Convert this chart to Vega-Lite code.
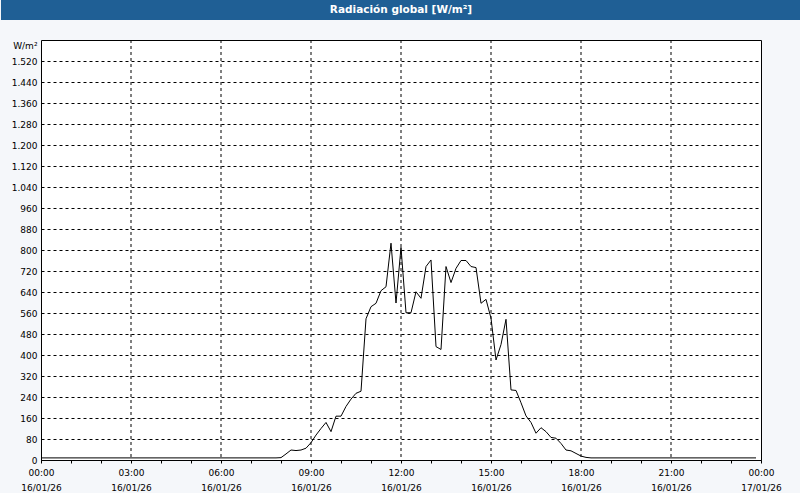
{
  "$schema": "https://vega.github.io/schema/vega-lite/v6.json",
  "padding": 0,
  "background": "#f5f7fa",
  "config": {
    "font": "DejaVu Sans",
    "view": {"stroke": null}
  },
  "datasets": {
    "rad": [
      {"t": "2026-01-16T00:00", "v": 8}, {"t": "2026-01-16T00:10", "v": 8}, {"t": "2026-01-16T00:20", "v": 8}, {"t": "2026-01-16T00:30", "v": 8}, {"t": "2026-01-16T00:40", "v": 8}, {"t": "2026-01-16T00:50", "v": 8},
      {"t": "2026-01-16T01:00", "v": 8}, {"t": "2026-01-16T01:10", "v": 8}, {"t": "2026-01-16T01:20", "v": 8}, {"t": "2026-01-16T01:30", "v": 8}, {"t": "2026-01-16T01:40", "v": 8}, {"t": "2026-01-16T01:50", "v": 8},
      {"t": "2026-01-16T02:00", "v": 8}, {"t": "2026-01-16T02:10", "v": 8}, {"t": "2026-01-16T02:20", "v": 8}, {"t": "2026-01-16T02:30", "v": 8}, {"t": "2026-01-16T02:40", "v": 8}, {"t": "2026-01-16T02:50", "v": 8},
      {"t": "2026-01-16T03:00", "v": 8}, {"t": "2026-01-16T03:10", "v": 8}, {"t": "2026-01-16T03:20", "v": 8}, {"t": "2026-01-16T03:30", "v": 8}, {"t": "2026-01-16T03:40", "v": 8}, {"t": "2026-01-16T03:50", "v": 8},
      {"t": "2026-01-16T04:00", "v": 8}, {"t": "2026-01-16T04:10", "v": 8}, {"t": "2026-01-16T04:20", "v": 8}, {"t": "2026-01-16T04:30", "v": 8}, {"t": "2026-01-16T04:40", "v": 8}, {"t": "2026-01-16T04:50", "v": 8},
      {"t": "2026-01-16T05:00", "v": 8}, {"t": "2026-01-16T05:10", "v": 8}, {"t": "2026-01-16T05:20", "v": 8}, {"t": "2026-01-16T05:30", "v": 8}, {"t": "2026-01-16T05:40", "v": 8}, {"t": "2026-01-16T05:50", "v": 8},
      {"t": "2026-01-16T06:00", "v": 8}, {"t": "2026-01-16T06:10", "v": 8}, {"t": "2026-01-16T06:20", "v": 8}, {"t": "2026-01-16T06:30", "v": 8}, {"t": "2026-01-16T06:40", "v": 8}, {"t": "2026-01-16T06:50", "v": 8},
      {"t": "2026-01-16T07:00", "v": 8}, {"t": "2026-01-16T07:10", "v": 8}, {"t": "2026-01-16T07:20", "v": 8}, {"t": "2026-01-16T07:30", "v": 8}, {"t": "2026-01-16T07:40", "v": 8}, {"t": "2026-01-16T07:50", "v": 8},
      {"t": "2026-01-16T08:00", "v": 9}, {"t": "2026-01-16T08:10", "v": 23}, {"t": "2026-01-16T08:20", "v": 38}, {"t": "2026-01-16T08:30", "v": 36}, {"t": "2026-01-16T08:40", "v": 38}, {"t": "2026-01-16T08:50", "v": 45},
      {"t": "2026-01-16T09:00", "v": 66}, {"t": "2026-01-16T09:10", "v": 95}, {"t": "2026-01-16T09:20", "v": 120}, {"t": "2026-01-16T09:30", "v": 143}, {"t": "2026-01-16T09:40", "v": 108}, {"t": "2026-01-16T09:50", "v": 167},
      {"t": "2026-01-16T10:00", "v": 167}, {"t": "2026-01-16T10:10", "v": 204}, {"t": "2026-01-16T10:20", "v": 232}, {"t": "2026-01-16T10:30", "v": 254}, {"t": "2026-01-16T10:40", "v": 262}, {"t": "2026-01-16T10:50", "v": 538},
      {"t": "2026-01-16T11:00", "v": 584}, {"t": "2026-01-16T11:10", "v": 597}, {"t": "2026-01-16T11:20", "v": 645}, {"t": "2026-01-16T11:30", "v": 660}, {"t": "2026-01-16T11:40", "v": 826}, {"t": "2026-01-16T11:50", "v": 598},
      {"t": "2026-01-16T12:00", "v": 810}, {"t": "2026-01-16T12:10", "v": 561}, {"t": "2026-01-16T12:20", "v": 561}, {"t": "2026-01-16T12:30", "v": 641}, {"t": "2026-01-16T12:40", "v": 616}, {"t": "2026-01-16T12:50", "v": 737},
      {"t": "2026-01-16T13:00", "v": 762}, {"t": "2026-01-16T13:10", "v": 432}, {"t": "2026-01-16T13:20", "v": 421}, {"t": "2026-01-16T13:30", "v": 737}, {"t": "2026-01-16T13:40", "v": 676}, {"t": "2026-01-16T13:50", "v": 730},
      {"t": "2026-01-16T14:00", "v": 760}, {"t": "2026-01-16T14:10", "v": 760}, {"t": "2026-01-16T14:20", "v": 737}, {"t": "2026-01-16T14:30", "v": 733}, {"t": "2026-01-16T14:40", "v": 597}, {"t": "2026-01-16T14:50", "v": 612},
      {"t": "2026-01-16T15:00", "v": 540}, {"t": "2026-01-16T15:10", "v": 381}, {"t": "2026-01-16T15:20", "v": 440}, {"t": "2026-01-16T15:30", "v": 536}, {"t": "2026-01-16T15:40", "v": 267}, {"t": "2026-01-16T15:50", "v": 265},
      {"t": "2026-01-16T16:00", "v": 218}, {"t": "2026-01-16T16:10", "v": 168}, {"t": "2026-01-16T16:20", "v": 143}, {"t": "2026-01-16T16:30", "v": 102}, {"t": "2026-01-16T16:40", "v": 123}, {"t": "2026-01-16T16:50", "v": 108},
      {"t": "2026-01-16T17:00", "v": 86}, {"t": "2026-01-16T17:10", "v": 83}, {"t": "2026-01-16T17:20", "v": 63}, {"t": "2026-01-16T17:30", "v": 38}, {"t": "2026-01-16T17:40", "v": 35}, {"t": "2026-01-16T17:50", "v": 25},
      {"t": "2026-01-16T18:00", "v": 15}, {"t": "2026-01-16T18:10", "v": 10}, {"t": "2026-01-16T18:20", "v": 8}, {"t": "2026-01-16T18:30", "v": 8}, {"t": "2026-01-16T18:40", "v": 8}, {"t": "2026-01-16T18:50", "v": 8},
      {"t": "2026-01-16T19:00", "v": 8}, {"t": "2026-01-16T19:10", "v": 8}, {"t": "2026-01-16T19:20", "v": 8}, {"t": "2026-01-16T19:30", "v": 8}, {"t": "2026-01-16T19:40", "v": 8}, {"t": "2026-01-16T19:50", "v": 8},
      {"t": "2026-01-16T20:00", "v": 8}, {"t": "2026-01-16T20:10", "v": 8}, {"t": "2026-01-16T20:20", "v": 8}, {"t": "2026-01-16T20:30", "v": 8}, {"t": "2026-01-16T20:40", "v": 8}, {"t": "2026-01-16T20:50", "v": 8},
      {"t": "2026-01-16T21:00", "v": 8}, {"t": "2026-01-16T21:10", "v": 8}, {"t": "2026-01-16T21:20", "v": 8}, {"t": "2026-01-16T21:30", "v": 8}, {"t": "2026-01-16T21:40", "v": 8}, {"t": "2026-01-16T21:50", "v": 8},
      {"t": "2026-01-16T22:00", "v": 8}, {"t": "2026-01-16T22:10", "v": 8}, {"t": "2026-01-16T22:20", "v": 8}, {"t": "2026-01-16T22:30", "v": 8}, {"t": "2026-01-16T22:40", "v": 8}, {"t": "2026-01-16T22:50", "v": 8},
      {"t": "2026-01-16T23:00", "v": 8}, {"t": "2026-01-16T23:10", "v": 8}, {"t": "2026-01-16T23:20", "v": 8}, {"t": "2026-01-16T23:30", "v": 8}, {"t": "2026-01-16T23:40", "v": 8}, {"t": "2026-01-16T23:50", "v": 8}
    ],
    "grid": [
      {"t": "2026-01-16T03:00"}, {"t": "2026-01-16T06:00"}, {"t": "2026-01-16T09:00"}, {"t": "2026-01-16T12:00"},
      {"t": "2026-01-16T15:00"}, {"t": "2026-01-16T18:00"}, {"t": "2026-01-16T21:00"}
    ],
    "head": [{"title": "Radiación global [W/m²]"}]
  },
  "spacing": 20,
  "bounds": "flush",
  "center": true,
  "vconcat": [
    {
      "width": 800,
      "height": 20,
      "view": {"fill": "#1f5f95", "stroke": null},
      "data": {"name": "head"},
      "mark": {"type": "text", "color": "white", "fontWeight": "bold", "fontSize": 10.5, "font": "DejaVu Sans", "baseline": "middle", "align": "center"},
      "encoding": {"text": {"field": "title"}}
    },
    {
      "width": 720,
      "height": 420,
      "view": {"fill": "white", "stroke": "black", "strokeWidth": 1},
      "encoding": {
        "x": {
          "field": "t",
          "type": "temporal",
          "scale": {"domain": [{"year": 2026, "month": 1, "date": 16, "hours": 0}, {"year": 2026, "month": 1, "date": 17, "hours": 0}], "nice": false},
          "axis": {
            "title": null,
            "values": [
              {"year": 2026, "month": 1, "date": 16, "hours": 0}, {"year": 2026, "month": 1, "date": 16, "hours": 1}, {"year": 2026, "month": 1, "date": 16, "hours": 2},
              {"year": 2026, "month": 1, "date": 16, "hours": 3}, {"year": 2026, "month": 1, "date": 16, "hours": 4}, {"year": 2026, "month": 1, "date": 16, "hours": 5},
              {"year": 2026, "month": 1, "date": 16, "hours": 6}, {"year": 2026, "month": 1, "date": 16, "hours": 7}, {"year": 2026, "month": 1, "date": 16, "hours": 8},
              {"year": 2026, "month": 1, "date": 16, "hours": 9}, {"year": 2026, "month": 1, "date": 16, "hours": 10}, {"year": 2026, "month": 1, "date": 16, "hours": 11},
              {"year": 2026, "month": 1, "date": 16, "hours": 12}, {"year": 2026, "month": 1, "date": 16, "hours": 13}, {"year": 2026, "month": 1, "date": 16, "hours": 14},
              {"year": 2026, "month": 1, "date": 16, "hours": 15}, {"year": 2026, "month": 1, "date": 16, "hours": 16}, {"year": 2026, "month": 1, "date": 16, "hours": 17},
              {"year": 2026, "month": 1, "date": 16, "hours": 18}, {"year": 2026, "month": 1, "date": 16, "hours": 19}, {"year": 2026, "month": 1, "date": 16, "hours": 20},
              {"year": 2026, "month": 1, "date": 16, "hours": 21}, {"year": 2026, "month": 1, "date": 16, "hours": 22}, {"year": 2026, "month": 1, "date": 16, "hours": 23},
              {"year": 2026, "month": 1, "date": 17, "hours": 0}
            ],
            "tickSize": 3,
            "tickColor": "black",
            "domainColor": "black",
            "labelOverlap": false,
            "labelFlush": false,
            "labelPadding": 5,
            "labelFont": "DejaVu Sans",
            "labelFontSize": 9,
            "labelColor": "black",
            "labelLineHeight": 15,
            "labelBaseline": "top",
            "labelExpr": "hours(datum.value) % 3 == 0 ? [timeFormat(datum.value, '%H:%M'), timeFormat(datum.value, '%d/%m/%y')] : ''",
            "grid": false
          }
        }
      },
      "layer": [
        {
          "data": {"name": "grid"},
          "mark": {"type": "rule", "color": "black", "strokeDash": [3, 3], "strokeWidth": 1}
        },
        {
          "data": {"name": "rad"},
          "mark": {"type": "line", "color": "black", "strokeWidth": 1},
          "encoding": {
            "y": {
              "field": "v",
              "type": "quantitative",
              "scale": {"domain": [0, 1600], "nice": false},
              "axis": {
                "values": [0, 80, 160, 240, 320, 400, 480, 560, 640, 720, 800, 880, 960, 1040, 1120, 1200, 1280, 1360, 1440, 1520],
                "labelExpr": "replace(format(datum.value, ','), ',', '.')",
                "ticks": false,
                "domain": false,
                "labelPadding": 4,
                "labelFont": "DejaVu Sans",
                "labelFontSize": 9,
                "labelColor": "black",
                "minExtent": 40,
                "maxExtent": 40,
                "grid": true,
                "gridColor": "black",
                "gridDash": [3, 3],
                "title": "W/m²",
                "titleAngle": 0,
                "titleAlign": "right",
                "titleBaseline": "middle",
                "titleX": -4,
                "titleY": 5,
                "titleFont": "DejaVu Sans",
                "titleFontSize": 9,
                "titleFontWeight": "normal",
                "titleColor": "black"
              }
            }
          }
        }
      ]
    }
  ]
}
